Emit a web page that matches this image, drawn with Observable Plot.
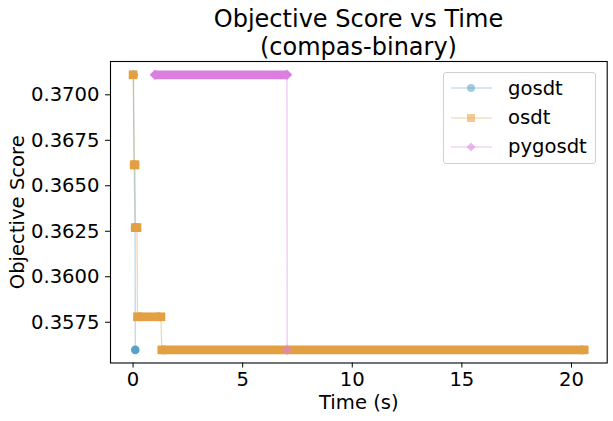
<!DOCTYPE html>
<html>
<head>
<meta charset="utf-8">
<script src="https://cdn.jsdelivr.net/npm/d3@7"></script>
<script src="https://cdn.jsdelivr.net/npm/@observablehq/plot@0.6"></script>
<style>
  html, body { margin: 0; padding: 0; background: #fff; }
  #wrap { position: relative; width: 613px; height: 421px; font-family: "DejaVu Sans", sans-serif; }
  #title { position: absolute; left: 110px; width: 497px; top: 4.6px; text-align: center; font-size: 24px; line-height: 28.8px; color: #000; }
  #legend { position: absolute; left: 443px; top: 72px; width: 151px; height: 90px; border: 1px solid #d0d0d0; border-radius: 3px; background: rgba(255,255,255,0.8); }
  .entry { position: absolute; left: 0; height: 24px; display: flex; align-items: center; }
  .entry span { font-size: 19.6px; position: absolute; left: 64px; white-space: nowrap; }
  .entry svg { position: absolute; left: 7px; }
</style>
</head>
<body>
<div id="wrap">
  <div id="chart"></div>
  <div id="title">Objective Score vs Time<br>(compas-binary)</div>
  <div id="legend"></div>
</div>
<script>
// ---- data ----
const seriesNames = ["gosdt", "osdt", "pygosdt"];
const seriesColors = ["#57a3c6", "#e3a043", "#da7fe0"];
const seriesSymbols = ["circle", "square", "diamond2"];

// gosdt: individual points (time s, objective)
const gosdtTime  = [0.02, 0.05, 0.09, 0.10];
const gosdtScore = [0.3711, 0.36615, 0.3627, 0.35598];

// osdt: plateaus of densely packed points (start time, end time, objective)
const osdtStart = [0.00, 0.05, 0.10, 0.20, 1.31];
const osdtEnd   = [0.00, 0.09, 0.18, 1.27, 20.58];
const osdtScore = [0.3711, 0.36615, 0.3627, 0.3578, 0.35598];

// pygosdt: plateaus (start, end, objective)
const pyStart = [1.00, 7.03];
const pyEnd   = [7.02, 7.03];
const pyScore = [0.3711, 0.35598];

const xTicks = [0, 5, 10, 15, 20];
const yTicks = [0.3575, 0.3600, 0.3625, 0.3650, 0.3675, 0.3700];

// ---- build tables ----
const gosdtPts = gosdtTime.map((t, i) => ({t, s: gosdtScore[i]}));
const plateauPath = (st, en, sc) => st.flatMap((s0, i) => en[i] > s0 ? [{t: s0, s: sc[i]}, {t: en[i], s: sc[i]}] : [{t: s0, s: sc[i]}]);
const plateaus = (st, en, sc) => st.map((s0, i) => ({t1: s0, t2: en[i], s: sc[i]}));
const osdtPath = plateauPath(osdtStart, osdtEnd, osdtScore);
const pyPath = plateauPath(pyStart, pyEnd, pyScore);
const osdtPl = plateaus(osdtStart, osdtEnd, osdtScore);
const pyPl = plateaus(pyStart, pyEnd, pyScore);

const [cG, cO, cP] = seriesColors;
const FS = 19.6;

const chart = Plot.plot({
  width: 613,
  height: 421,
  marginLeft: 110,
  marginRight: 6.3,
  marginTop: 61,
  marginBottom: 58.5,
  style: {fontFamily: "DejaVu Sans, sans-serif", fontSize: FS + "px", color: "#000", background: "#fff"},
  x: {domain: [-1.03, 21.63], ticks: xTicks},
  y: {domain: [0.35526, 0.37183], ticks: yTicks},
  marks: [
    // gosdt
    Plot.line(gosdtPts, {x: "t", y: "s", stroke: cG, strokeOpacity: 0.45, strokeWidth: 1.2}),
    Plot.dot(gosdtPts, {x: "t", y: "s", symbol: seriesSymbols[0], r: 4.3, fill: cG, stroke: "none"}),
    // osdt
    Plot.line(osdtPath, {x: "t", y: "s", stroke: cO, strokeOpacity: 0.45, strokeWidth: 1.2}),
    Plot.ruleY(osdtPl.filter(d => d.t2 > d.t1), {x1: "t1", x2: "t2", y: "s", stroke: cO, strokeWidth: 8.7}),
    Plot.dot(osdtPath, {x: "t", y: "s", symbol: seriesSymbols[1], r: 4.9, fill: cO, stroke: "none"}),
    // pygosdt
    Plot.line(pyPath, {x: "t", y: "s", stroke: cP, strokeOpacity: 0.45, strokeWidth: 1.2}),
    Plot.ruleY(pyPl.filter(d => d.t2 > d.t1), {x1: "t1", x2: "t2", y: "s", stroke: cP, strokeWidth: 8.7}),
    Plot.dot(pyPl.filter(d => d.t2 > d.t1), {x: "t1", y: "s", symbol: seriesSymbols[2], r: 4.8, fill: cP, stroke: "none"}),
    Plot.dot(pyPl.filter(d => d.t2 > d.t1), {x: "t2", y: "s", symbol: seriesSymbols[2], r: 4.8, fill: cP, stroke: "none"}),
    Plot.dot(pyPl.filter(d => d.t2 === d.t1), {x: "t1", y: "s", symbol: seriesSymbols[2], r: 4.8, fill: cP, fillOpacity: 0.55, stroke: "none"}),
    // axes
    Plot.axisX({ticks: xTicks, tickSize: 5, tickPadding: 4, tickFormat: d3.format("d"), label: null, fontSize: FS}),
    Plot.axisY({ticks: yTicks, tickSize: 5, tickPadding: 6, tickFormat: d3.format(".4f"), label: null, fontSize: FS}),
    Plot.text(["Time (s)"], {frameAnchor: "bottom", dy: 46, fontSize: FS, textAnchor: "middle"}),
    Plot.text(["Objective Score"], {frameAnchor: "left", dx: -93, rotate: -90, fontSize: FS, textAnchor: "middle"}),
    Plot.frame({stroke: "#000", strokeWidth: 1.1})
  ]
});
document.getElementById("chart").appendChild(chart);

// ---- legend ----
const legend = document.getElementById("legend");
const markerSvg = (sym, color) => {
  if (sym === "circle") return `<circle cx="20" cy="12" r="4" fill="${color}" fill-opacity="0.55"/>`;
  if (sym === "square") return `<rect x="16" y="8" width="8" height="8" fill="${color}" fill-opacity="0.55"/>`;
  return `<path d="M20 7.5 L24.5 12 L20 16.5 L15.5 12 Z" fill="${color}" fill-opacity="0.55"/>`;
};
const entryTops = [3, 32.5, 61.5];
seriesNames.forEach((name, i) => {
  const div = document.createElement("div");
  div.className = "entry";
  div.style.top = entryTops[i] + "px";
  div.innerHTML = `<svg width="42" height="24"><line x1="0" x2="41" y1="12" y2="12" stroke="${seriesColors[i]}" stroke-opacity="0.5" stroke-width="1.2"/>${markerSvg(seriesSymbols[i], seriesColors[i])}</svg><span>${name}</span>`;
  legend.appendChild(div);
});
</script>
</body>
</html>
